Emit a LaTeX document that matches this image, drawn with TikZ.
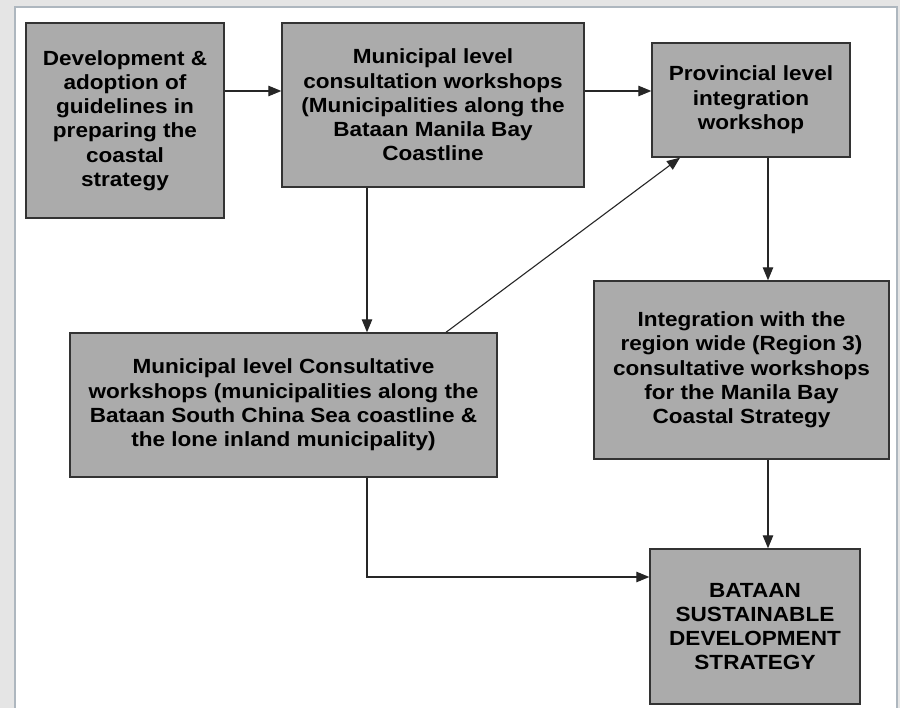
\documentclass[tikz,border=0pt]{standalone}
\usepackage{fontspec}
\setmainfont{Liberation Sans}[FakeStretch=1.1]
\usetikzlibrary{arrows.meta}
\definecolor{boxgray}{HTML}{ABABAB}
\definecolor{framegray}{HTML}{AEB7BF}
\begin{document}
\begin{tikzpicture}[x=1pt,y=-1pt,
  stage/.style={draw=black!80, line width=1.4pt, fill=boxgray, align=center, inner sep=0pt,
    font=\bfseries\fontsize{20.5}{24.3}\selectfont},
  flow/.style={draw=black!85, line width=1.1pt, -{Triangle[length=13pt,width=10.5pt]}}]

\useasboundingbox (0,0) rectangle (900,708);
\fill[black!10] (0,0) rectangle (900,708);
\filldraw[fill=white, draw=framegray, line width=2.5pt] (15,7) rectangle (897,715);

\node[stage, minimum width=198pt, minimum height=195pt] (dev) at (125,120.5)
  {Development \&\\adoption of\\guidelines in\\preparing the\\coastal\\strategy};
\node[stage, minimum width=302pt, minimum height=164pt] (munbay) at (433,105)
  {Municipal level\\consultation workshops\\(Municipalities along the\\Bataan Manila Bay\\Coastline};
\node[stage, minimum width=198pt, minimum height=114pt] (prov) at (751,100)
  {Provincial level\\integration\\workshop};
\node[stage, minimum width=427pt, minimum height=144pt] (munsea) at (283.5,405)
  {Municipal level Consultative\\workshops (municipalities along the\\Bataan South China Sea coastline \&\\the lone inland municipality)};
\node[stage, minimum width=295pt, minimum height=178pt] (region) at (741.5,370)
  {Integration with the\\region wide (Region 3)\\consultative workshops\\for the Manila Bay\\Coastal Strategy};
\node[stage, minimum width=210pt, minimum height=155pt] (bsds) at (755,626.5)
  {BATAAN\\SUSTAINABLE\\DEVELOPMENT\\STRATEGY};

\draw[flow] (dev.east |- 0,91) -- (munbay.west |- 0,91);
\draw[flow] (munbay.east |- 0,91) -- (prov.west |- 0,91);
\draw[flow] (munbay.south -| 367,0) -- (munsea.north -| 367,0);
\draw[flow] (munsea.north -| 446,0) -- (prov.south -| 680,0);
\draw[flow] (prov.south -| 768,0) -- (region.north -| 768,0);
\draw[flow] (region.south -| 768,0) -- (bsds.north -| 768,0);
\draw[flow] (munsea.south -| 367,0) |- (bsds.west |- 0,577);

\end{tikzpicture}
\end{document}
